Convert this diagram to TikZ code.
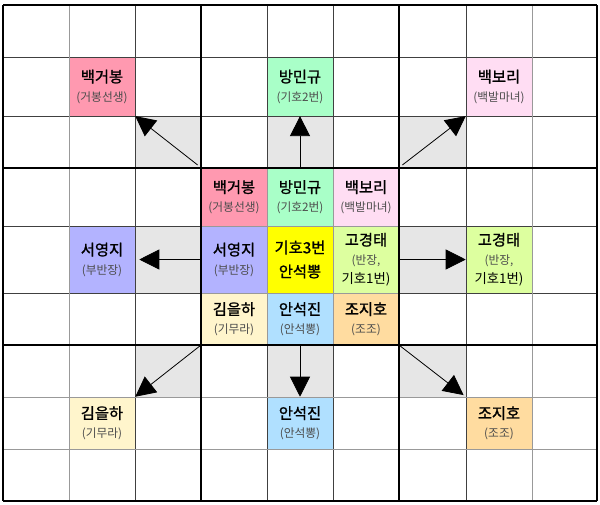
\documentclass[tikz,border=0pt]{standalone}
\usepackage{fontspec}
\setmainfont{Noto Sans CJK KR}
\newfontfamily\namefont[FakeBold=1.2]{Noto Sans CJK KR}
\usetikzlibrary{arrows.meta}

\definecolor{geobong}{HTML}{FF99B0}
\definecolor{mingyu}{HTML}{A9FFC8}
\definecolor{bori}{HTML}{FFDDF3}
\definecolor{yeongji}{HTML}{B3B3FF}
\definecolor{seokppong}{HTML}{FFFF00}
\definecolor{gyeongtae}{HTML}{DDFF9F}
\definecolor{eulha}{HTML}{FFF5CC}
\definecolor{seokjin}{HTML}{B0E0FF}
\definecolor{jiho}{HTML}{FFDCA0}
\definecolor{cellgray}{HTML}{E6E6E6}

\newcommand{\who}[2]{{\namefont\fontsize{11.5}{14}\selectfont #1}\\[2pt]\color{black!70}\fontsize{8.8}{14}\selectfont #2}

\tikzset{
  cellbox/.style = {inner sep=0pt, minimum width=49.5pt, align=center, fill=#1},
  shortrow/.style = {minimum height=39pt},
  tallrow/.style = {minimum height=44pt},
  bigrow/.style = {minimum height=50.25pt},
  thick line/.style = {line width=2pt},
  thin line/.style = {line width=0.6pt, black!75},
  light line/.style = {line width=0.6pt, black!40},
  pointer/.style = {line width=0.6pt, -{Triangle[length=15pt,width=15pt]}}
}

\begin{document}
\begin{tikzpicture}[x=0.75pt, y=-0.75pt]
  \useasboundingbox (0,0) rectangle (600,504);
  \fill[white] (0,0) rectangle (600,504);

  % grey cells
  \foreach \cx/\cy/\dx/\dy in {135/116/201/168, 267/116/333/168, 399/116/466/168,
                                135/226/201/293, 399/226/466/293,
                                135/345/201/397, 267/345/333/397, 399/345/466/397}
    \fill[cellgray] (\cx,\cy) rectangle (\dx,\dy);

  % centre block
  \node[cellbox=geobong, tallrow] (cBGB) at (234,197) {\who{백거봉}{(거봉선생)}};
  \node[cellbox=mingyu, tallrow] (cBMG) at (300,197) {\who{방민규}{(기호2번)}};
  \node[cellbox=bori, tallrow] (cBBR) at (366,197) {\who{백보리}{(백발마녀)}};
  \node[cellbox=yeongji, bigrow] (cSYJ) at (234,259.5) {\who{서영지}{(부반장)}};
  \node[cellbox=seokppong, bigrow, font=\namefont\fontsize{11.5}{14}\selectfont] (cKH3) at (300,259.5)
    {기호3번\\[4pt]안석뽕};
  \node[cellbox=gyeongtae, bigrow] (cGGT) at (366,259.5) {\who{고경태}{(반장,\\[2.5pt]기호1번)}};
  \node[cellbox=eulha, shortrow] (cKEH) at (234,319) {\who{김을하}{(기무라)}};
  \node[cellbox=seokjin, shortrow] (cASJ) at (300,319) {\who{안석진}{(안석뽕)}};
  \node[cellbox=jiho, shortrow] (cJJH) at (366,319) {\who{조지호}{(조조)}};

  % outer cells
  \node[cellbox=geobong, tallrow] (oBGB) at (102,86.5) {\who{백거봉}{(거봉선생)}};
  \node[cellbox=mingyu, tallrow] (oBMG) at (300,86.5) {\who{방민규}{(기호2번)}};
  \node[cellbox=bori, tallrow] (oBBR) at (499,86.5) {\who{백보리}{(백발마녀)}};
  \node[cellbox=yeongji, bigrow] (oSYJ) at (102,259.5) {\who{서영지}{(부반장)}};
  \node[cellbox=gyeongtae, bigrow] (oGGT) at (499,259.5) {\who{고경태}{(반장,\\[2.5pt]기호1번)}};
  \node[cellbox=eulha, shortrow] (oKEH) at (102,423) {\who{김을하}{(기무라)}};
  \node[cellbox=seokjin, shortrow] (oASJ) at (300,423) {\who{안석진}{(안석뽕)}};
  \node[cellbox=jiho, shortrow] (oJJH) at (499,423) {\who{조지호}{(조조)}};

  % grid
  \foreach \gx in {135,267,333,466}
    \draw[thin line] (\gx,5) -- (\gx,501);
  \foreach \gy in {57,116,226,293}
    \draw[thin line] (3,\gy) -- (597,\gy);
  \foreach \gx in {69,532}
    \draw[light line] (\gx,5) -- (\gx,501);
  \foreach \gy in {397,449}
    \draw[light line] (3,\gy) -- (597,\gy);
  \foreach \gx in {267,333}
    \draw[light line] (\gx,168) -- (\gx,345);
  \foreach \gy in {226,293}
    \draw[light line] (201,\gy) -- (399,\gy);
  \foreach \gx in {3,201,399,597}
    \draw[thick line] (\gx,5) -- (\gx,501);
  \foreach \gy in {5,168,345,501}
    \draw[thick line] (3,\gy) -- (597,\gy);

  % arrows
  \draw[pointer, shorten <=3pt] (cBGB.north west) -- (oBGB.south east);
  \draw[pointer] (cBMG.north) -- (oBMG.south);
  \draw[pointer, shorten <=3pt] (cBBR.north east) -- (oBBR.south west);
  \draw[pointer, shorten >=3pt] (cSYJ.west) -- (oSYJ.east);
  \draw[pointer] (cGGT.east) -- (oGGT.west);
  \draw[pointer] (cKEH.south west) -- (oKEH.north east);
  \draw[pointer] (cASJ.south) -- (oASJ.north);
  \draw[pointer, shorten >=2pt] (cJJH.south east) -- (oJJH.north west);
\end{tikzpicture}
\end{document}
